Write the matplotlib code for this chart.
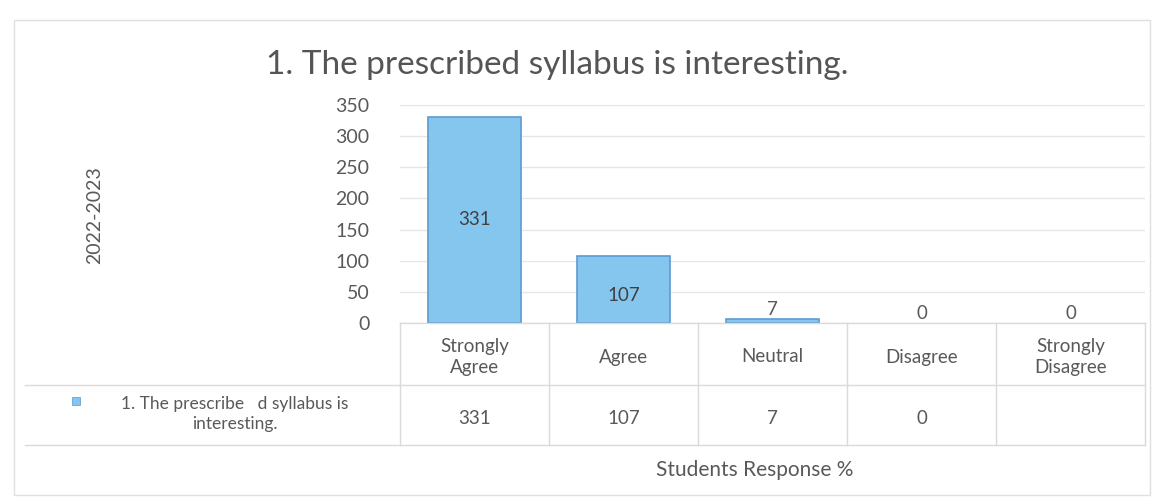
import matplotlib.pyplot as plt
from matplotlib.patches import Rectangle

# data
categories = ["Strongly\nAgree", "Agree", "Neutral", "Disagree", "Strongly\nDisagree"]
values = [331, 107, 7, 0, 0]
table_values = ["331", "107", "7", "0", ""]
series_name = "1. The prescribe   d syllabus is\ninteresting."
title = "1. The prescribed syllabus is interesting."

BAR = "#85C6EE"
EDGE = "#5B9BD0"
TXT = "#595959"
GRID = "#E6E6E6"

plt.rcParams['font.family'] = ['Lato', 'DejaVu Sans']

W, H = 1166, 501
fig = plt.figure(figsize=(W / 100, H / 100), dpi=100)
fig.patch.set_facecolor("white")


def fx(px):
    return px / W


def fy(py):
    return 1 - py / H


# plot area
x0, x1 = 400, 1145
y_top, y_bot = 105, 323
ax = fig.add_axes([fx(x0), fy(y_bot), fx(x1 - x0), (y_bot - y_top) / H])
n = len(categories)
xs = list(range(n))
edges = [EDGE if v > 0 else "none" for v in values]
ax.bar(xs, values, width=0.63, color=BAR, edgecolor=edges, linewidth=1.2, zorder=3)
ax.set_xlim(-0.5, n - 0.5)
ax.set_ylim(0, 350)
ax.set_yticks(range(0, 351, 50))
ax.tick_params(axis="y", length=0, labelsize=14, labelcolor=TXT, pad=22)
ax.set_xticks([])
ax.grid(axis="y", color=GRID, linewidth=1)
for s in ax.spines.values():
    s.set_visible(False)

for x, v in zip(xs, values):
    if v > 50:
        ax.text(x, v / 2 if v > 200 else v * 0.42, str(v), ha="center", va="center",
                fontsize=13.5, color="#404040", zorder=4)
    else:
        ax.text(x, v + 15, str(v), ha="center", va="center", fontsize=13.5, color=TXT, zorder=4)

# data table
col_w = (x1 - x0) / n
t_head_bot, t_row_bot = 385, 445
line_kw = dict(color="#DADADA", linewidth=1)
fig.add_artist(plt.Line2D([fx(x0), fx(x1)], [fy(y_bot), fy(y_bot)], transform=fig.transFigure, **line_kw))
fig.add_artist(plt.Line2D([fx(25), fx(x1)], [fy(t_head_bot), fy(t_head_bot)], transform=fig.transFigure, **line_kw))
fig.add_artist(plt.Line2D([fx(25), fx(x1)], [fy(t_row_bot), fy(t_row_bot)], transform=fig.transFigure, **line_kw))
for i in range(n + 1):
    xp = x0 + i * col_w
    fig.add_artist(plt.Line2D([fx(xp), fx(xp)], [fy(y_bot), fy(t_row_bot)], transform=fig.transFigure, **line_kw))

for i, (cat, tv) in enumerate(zip(categories, table_values)):
    cx = x0 + (i + 0.5) * col_w
    fig.text(fx(cx), fy((y_bot + t_head_bot) / 2 + 3), cat, ha="center", va="center",
             fontsize=13.5, color=TXT, linespacing=1.25)
    fig.text(fx(cx), fy((t_head_bot + t_row_bot) / 2 + 3), tv, ha="center", va="center",
             fontsize=13.5, color=TXT)

fig.text(fx(235), fy(414), series_name, ha="center", va="center", fontsize=12.5,
         color=TXT, linespacing=1.3)
fig.add_artist(Rectangle((fx(72), fy(405)), fx(8), 8 / H, transform=fig.transFigure,
                         color=BAR, ec=EDGE, lw=0.5))

# titles
fig.text(fx(557), fy(65), title, ha="center", va="center", fontsize=24, color="#555555")
fig.text(fx(755), fy(470), "Students Response %", ha="center", va="center", fontsize=15, color=TXT)
fig.text(fx(95), fy(215), "2022-2023", ha="center", va="center", rotation=90, fontsize=14, color=TXT)

# chart frame
fig.add_artist(Rectangle((fx(14), fy(495)), fx(1150 - 14), (495 - 20) / H, transform=fig.transFigure,
                         fill=False, ec="#E0E0E0", lw=1))

fig.savefig("out.png", dpi=100)
